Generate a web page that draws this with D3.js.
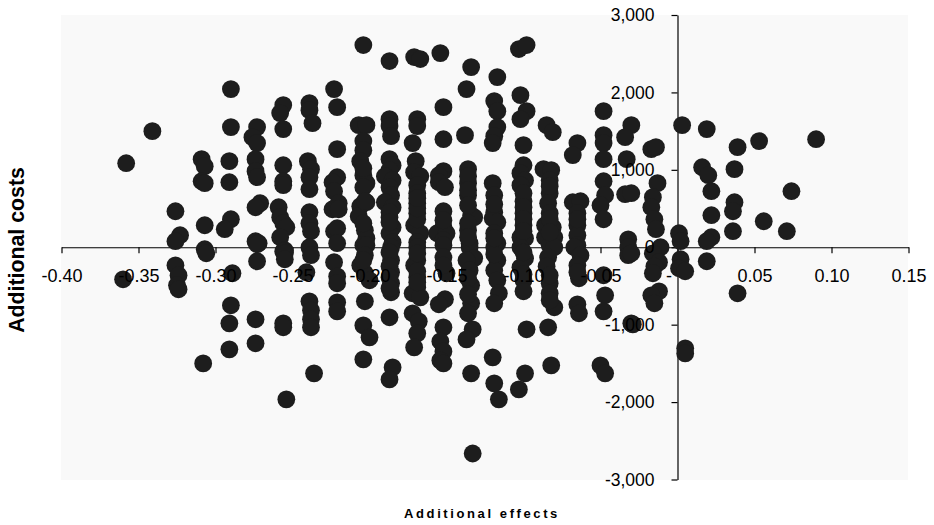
<!DOCTYPE html>
<html>
<head>
<meta charset="utf-8">
<script src="https://cdn.jsdelivr.net/npm/d3@7"></script>
<style>
  html, body { margin: 0; padding: 0; background: #fff; }
  text { font-family: "Liberation Sans", Arial, sans-serif; fill: #000; }
</style>
</head>
<body>
<script>
// scatter columns
const effects = [
  -.360,-.358,-.341,
  -.326,-.323,-.326,-.326,-.324,-.325,-.324,
  -.309,-.307,-.309,-.307,-.307,-.307,-.306,-.308,
  -.290,-.290,-.291,-.291,-.290,-.294,-.289,-.290,-.291,-.291,
  -.273,-.276,-.273,-.274,-.274,-.273,-.271,-.274,-.274,-.272,-.273,-.273,-.274,-.274,
  -.256,-.258,-.256,-.256,-.256,-.256,-.259,-.258,-.256,-.254,-.258,-.255,-.256,-.255,-.255,-.256,-.256,-.254,
  -.239,-.239,-.237,-.240,-.238,-.239,-.239,-.239,-.239,-.238,-.239,-.238,-.241,-.239,-.238,-.238,-.238,-.236,
  -.223,-.221,-.221,-.221,-.224,-.223,-.220,-.224,-.220,-.223,-.221,-.221,-.223,-.221,-.221,-.221,-.221,
  -.204,-.207,-.202,-.204,-.204,-.206,-.204,-.202,-.204,-.202,-.206,-.207,-.203,-.203,-.202,-.204,-.202,-.203,-.206,-.203,-.200,-.203,-.204,-.200,-.204,
  -.187,-.187,-.187,-.186,-.187,-.185,-.187,-.190,-.185,-.187,-.186,-.190,-.185,-.187,-.185,-.187,-.185,-.186,-.186,-.186,-.186,-.186,-.187,-.185,-.187,
  -.171,-.167,-.169,-.169,-.172,-.170,-.171,-.167,-.169,-.169,-.169,-.169,-.171,-.167,-.169,-.169,-.169,-.171,-.169,-.169,-.172,-.167,-.172,-.168,-.169,-.171,
  -.154,-.152,-.152,-.152,-.155,-.155,-.151,-.152,-.152,-.156,-.150,-.152,-.152,-.152,-.150,-.151,-.155,-.152,-.154,-.152,-.154,-.152,
  -.134,-.137,-.138,-.136,-.136,-.136,-.134,-.132,-.136,-.135,-.135,-.132,-.137,-.135,-.134,-.134,-.136,-.133,-.137,-.134,-.133,
  -.117,-.119,-.117,-.117,-.119,-.120,-.120,-.119,-.119,-.120,-.117,-.119,-.117,-.119,-.117,-.119,-.117,-.116,-.119,-.120,-.119,-.116,
  -.103,-.098,-.102,-.098,-.102,-.100,-.100,-.102,-.099,-.102,-.100,-.100,-.100,-.102,-.099,-.102,-.099,-.102,-.100,-.100,-.098,-.099,-.103,
  -.085,-.081,-.087,-.082,-.083,-.083,-.084,-.083,-.086,-.081,-.086,-.080,-.083,-.080,-.084,-.085,-.083,-.083,-.080,-.084,-.082,
  -.065,-.068,-.068,-.063,-.065,-.065,-.065,-.065,-.067,-.063,-.065,-.064,-.065,-.064,
  -.048,-.048,-.048,-.048,-.048,-.047,-.050,-.048,-.048,-.047,-.048,-.050,-.047,
  -.030,-.034,-.033,-.034,-.030,-.032,-.032,-.032,-.030,-.030,-.029,
  -.017,-.014,-.013,-.016,-.017,-.015,-.014,-.011,-.016,-.012,-.015,-.016,-.012,-.017,-.015,
  .003,.001,.002,.002,.001,.005,.005,.005,
  .019,.016,.020,.022,.022,.022,.019,.019,
  .039,.037,.037,.036,.036,.039,.053,.056,.071,.074,.090,
  // overlapped dots inside the dense columns
  -.204,-.204,-.204,
  -.187,-.187,-.187,-.187,-.187,-.187,
  -.169,-.169,-.169,-.169,-.169,-.169,
  -.152,-.152,
  -.136,-.136,-.136,-.136,-.136,-.136,-.136,
  -.119,-.119,-.119,
  -.100,-.100,-.100,-.100,-.100,-.100,
  -.083,-.083,-.083,-.083,-.083,
  -.065,-.065
];
const costs = [
  -414,1086,1500,
  465,155,78,-233,-362,-491,-543,
  1138,1047,853,828,284,-26,-78,-1500,
  2043,1552,1112,840,362,233,-336,-750,-983,-1319,
  1552,1422,1345,1138,983,905,569,517,78,52,39,-181,-931,-1241,
  1836,1733,1526,1060,853,802,517,388,310,259,129,-39,-52,-78,-155,-983,-1034,-1965,
  1862,1771,1603,1112,1009,905,750,453,310,207,0,-103,-323,-698,-815,-931,-1034,-1629,
  2043,1810,1267,905,840,724,569,491,491,207,246,52,-194,-375,-465,-711,-828,
  2612,1577,1577,1371,1254,1112,931,828,776,582,530,401,595,220,116,26,26,-103,-233,-336,-427,-698,-1009,-1164,-1448,
  2405,1655,1565,1435,1138,1060,996,918,866,776,672,582,517,388,259,181,65,0,-168,-323,-465,-582,-905,-1552,-1707,
  2457,2431,1655,1565,1345,1112,970,918,802,698,569,440,284,181,65,0,-168,-233,-388,-517,-595,-647,-853,-957,-1112,-1293,
  2508,1810,1396,983,931,840,776,465,259,181,181,91,26,-129,-336,-672,-737,-1034,-1215,-1345,-1461,-1500,
  2327,2043,1448,1009,828,672,414,388,220,52,0,-142,-168,-297,-491,-724,-853,-1060,-1190,-1629,-2664,
  2198,1888,1758,1552,1435,1345,828,672,453,375,323,181,52,0,-168,-297,-427,-595,-724,-1422,-1758,-1965,
  2560,2612,1965,1758,1655,1319,1060,957,866,802,595,440,284,129,116,0,-142,-259,-427,-569,-1060,-1629,-1836,
  1577,1487,1009,996,866,698,569,440,284,259,129,129,26,0,-129,-246,-465,-595,-776,-1034,-1526,
  1345,1190,582,595,440,284,155,26,0,-103,-233,-401,-737,-853,
  1758,1448,1345,1138,853,672,543,362,-362,-621,-828,-1526,-1629,
  1577,1422,1138,685,698,103,0,-103,-78,-983,-996,
  1267,1293,828,647,517,362,233,0,-78,-194,-246,-336,-569,-621,-724,
  1577,181,78,-155,-272,-310,-1306,-1371,
  1526,1034,931,724,414,129,78,-181,
  1293,1009,582,465,207,-595,1371,336,207,724,1396,
  // overlapped dots inside the dense columns
  310,1021,-168,
  453,323,-65,-246,-388,-530,
  362,504,634,-78,-310,-453,
  -233,349,
  918,737,543,310,129,-401,-608,
  556,-91,116,
  698,517,362,207,-349,-65,
  789,362,-362,-685,194,
  362,-323
];
const xTicks = [-0.40,-0.35,-0.30,-0.25,-0.20,-0.15,-0.10,-0.05,0,0.05,0.10,0.15];
const xTickLabels = ["-0.40","-0.35","-0.30","-0.25","-0.20","-0.15","-0.10","-0.05","-","0.05","0.10","0.15"];
const yTicks = [-3000,-2000,-1000,0,1000,2000,3000];
const yTickLabels = ["-3,000","-2,000","-1,000","0","1,000","2,000","3,000"];

const width = 934;
const height = 525;

const svg = d3.select("body")
    .append("svg")
    .attr("width", width)
    .attr("height", height)
    .style("display", "block");

const x = d3.scaleLinear().domain([-0.4, 0.15]).range([61.5, 908.5]);
const y = d3.scaleLinear().domain([-3000, 3000]).range([479.5, 15]);

svg.append("rect")
    .attr("x", 61)
    .attr("y", 15)
    .attr("width", 847)
    .attr("height", 465)
    .attr("fill", "#f9f9f9");

// axis lines first, the dots sit on top of them
const xLine = d3.axisBottom(x).tickValues(xTicks).tickSize(6).tickSizeOuter(0).tickFormat("");
const yLine = d3.axisLeft(y).tickValues(yTicks).tickSize(6).tickSizeOuter(0).tickFormat("");

svg.append("g").attr("transform", `translate(0,${y(0)})`).call(xLine);
svg.append("g").attr("transform", `translate(${x(0)},0)`).call(yLine);
svg.selectAll(".domain, .tick line").attr("stroke", "#000").attr("stroke-width", 1.2);

svg.append("g")
    .selectAll("circle")
    .data(effects)
    .join("circle")
    .attr("cx", d => x(d))
    .attr("cy", (d, i) => y(costs[i]))
    .attr("r", 8.9)
    .attr("fill", "#1d1d1d");

// tick labels are printed over the dots
const xLabels = d3.axisBottom(x).tickValues(xTicks).tickSize(0).tickPadding(22)
    .tickFormat((d, i) => xTickLabels[i]);
const yLabels = d3.axisLeft(y).tickValues(yTicks).tickSize(0).tickPadding(23)
    .tickFormat((d, i) => yTickLabels[i]);

const gx = svg.append("g").attr("transform", `translate(0,${y(0)})`).call(xLabels);
const gy = svg.append("g").attr("transform", `translate(${x(0)},0)`).call(yLabels);
gx.select(".domain").remove();
gy.select(".domain").remove();
gx.selectAll("text").style("font-size", "18px").style("font-family", "'Liberation Sans'").attr("fill", "#000");
gy.selectAll("text").style("font-size", "17.5px").style("font-family", "'Liberation Sans'").attr("fill", "#000");
// only the minus of the "0.00" label shows in the original
gx.selectAll(".tick").filter(d => d === 0).select("text").attr("dx", -9);

svg.append("text")
    .attr("transform", "translate(24,250) rotate(-90)")
    .attr("text-anchor", "middle")
    .style("font-size", "21.3px")
    .style("font-weight", "bold")
    .text("Additional costs");

svg.append("text")
    .attr("x", 482)
    .attr("y", 518)
    .attr("text-anchor", "middle")
    .style("font-size", "13px")
    .style("font-weight", "bold")
    .style("letter-spacing", "2.6px")
    .text("Additional effects");
</script>
</body>
</html>
